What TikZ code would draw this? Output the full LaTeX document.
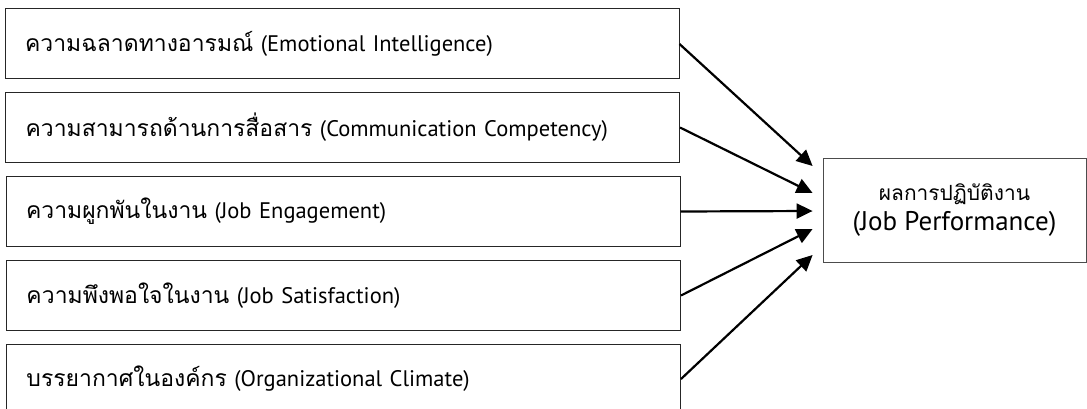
\documentclass[tikz,border=0pt]{standalone}
\usepackage{fontspec}
\setmainfont{PT Sans}
\newfontfamily\thaifont[Script=Thai,Scale=1.02]{Loma}
\usetikzlibrary{arrows.meta}
\tikzset{
  factor/.style={draw=black!85, line width=1pt, minimum height=70pt, text width=634pt,
    inner xsep=20pt, align=left, font=\fontsize{22.5}{30}\selectfont},
  result/.style={draw=black!70, line width=0.8pt, minimum width=263pt, minimum height=104pt,
    align=center, font=\fontsize{27}{32}\selectfont},
  arr/.style={line width=2.2pt, -{Triangle[length=16pt,width=15pt]}}
}
\begin{document}
\begin{tikzpicture}[x=1pt, y=-1pt]
  \useasboundingbox (0, 0) rectangle (1087, 409);
  \node[factor] (ei) at (342, 44) {{\thaifont ความฉลาดทางอารมณ์} (Emotional Intelligence)};
  \node[factor] (cc) at (342.5, 127.5) {{\thaifont ความสามารถด้านการสื่อสาร} (Communication Competency)};
  \node[factor] (je) at (343, 211.5) {{\thaifont ความผูกพันในงาน} (Job Engagement)};
  \node[factor] (js) at (343.5, 295.5) {{\thaifont ความพึงพอใจในงาน} (Job Satisfaction)};
  \node[factor] (oc) at (343.5, 379) {{\thaifont บรรยากาศในองค์กร} (Organizational Climate)};
  \node[result] (jp) at (954.5, 210) {{\thaifont\fontsize{20.5}{32}\selectfont ผลการปฏิบัติงาน}\\[-2pt](Job Performance)};
  \draw[arr] (ei.east) -- ([xshift=-10pt, yshift=44pt]jp.west);
  \draw[arr] (cc.east) -- ([xshift=-10pt, yshift=17pt]jp.west);
  \draw[arr] (je.east) -- ([xshift=-10pt, yshift=-1pt]jp.west);
  \draw[arr] (js.east) -- ([xshift=-10pt, yshift=-19pt]jp.west);
  \draw[arr] (oc.east) -- ([xshift=-10pt, yshift=-45pt]jp.west);
\end{tikzpicture}
\end{document}
